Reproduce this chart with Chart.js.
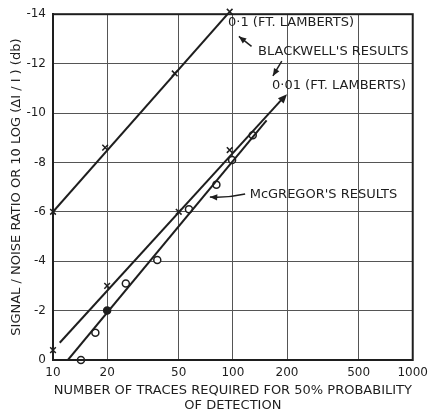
<!DOCTYPE html>
<html>
<head>
<meta charset="utf-8">
<script src="https://cdn.jsdelivr.net/npm/chart.js@4"></script>
<style>
  html, body { margin: 0; padding: 0; background: #fff; }
  #wrap { width: 434px; height: 413px; }
</style>
</head>
<body>
<div id="wrap"><canvas id="chart" width="434" height="413"></canvas></div>
<script>
// 坐标轴刻度
const xTicks = [10, 20, 50, 100, 200, 500, 1000];
const yTicks = [0, -2, -4, -6, -8, -10, -12, -14];

// Blackwell 0.1 ft. lamberts
const bw1LineX = [10, 96];
const bw1LineY = [-6, -14.1];
const bw1MarkX = [10, 19.5, 47.5, 96];
const bw1MarkY = [-6, -8.6, -11.6, -14.1];

// Blackwell 0.01 ft. lamberts
const bw2LineX = [10.9, 190];
const bw2LineY = [-0.7, -10.6];
const bw2MarkX = [10, 20, 50, 96];
const bw2MarkY = [-0.4, -3, -6, -8.5];

// McGregor
const mcgLineX = [12.1, 154];
const mcgLineY = [0, -9.7];
const mcgCircX = [14.3, 17.2, 25.4, 38, 57, 81, 99, 129];
const mcgCircY = [0, -1.1, -3.1, -4.05, -6.1, -7.1, -8.1, -9.1];
const mcgDotX = [20];
const mcgDotY = [-2];

const toPts = (xs, ys) => xs.map((x, i) => ({ x: x, y: ys[i] }));

const INK = '#1e1e1e';
const FONT = "'DejaVu Sans', sans-serif";

// 注释文字和箭头（数据坐标）
const labels = [
    { text: '0·1 (FT. LAMBERTS)', x: 94, y: -13.65 },
    { text: "BLACKWELL'S RESULTS", x: 138, y: -12.5 },
    { text: '0·01 (FT. LAMBERTS)', x: 165, y: -11.1 },
    { text: "McGREGOR'S RESULTS", x: 124, y: -6.7 }
];
const arrows = [
    { from: [127, -12.7], to: [108, -13.1], curve: false },
    { from: [187, -12.1], to: [167, -11.5], curve: false },
    { from: [117, -6.72], to: [74.5, -6.6], curve: true }
];

function arrowHead(ctx, x1, y1, x2, y2, size) {
    const a = Math.atan2(y2 - y1, x2 - x1);
    ctx.beginPath();
    ctx.moveTo(x2, y2);
    ctx.lineTo(x2 - size * Math.cos(a - 0.4), y2 - size * Math.sin(a - 0.4));
    ctx.lineTo(x2 - size * Math.cos(a + 0.4), y2 - size * Math.sin(a + 0.4));
    ctx.closePath();
    ctx.fill();
}

const annotate = {
    id: 'annotate',
    afterDatasetsDraw(chart) {
        const ctx = chart.ctx;
        const xs = chart.scales.x, ys = chart.scales.y;
        ctx.save();
        ctx.fillStyle = INK;
        ctx.strokeStyle = INK;
        ctx.font = '13px ' + FONT;
        ctx.textBaseline = 'middle';
        ctx.textAlign = 'left';
        labels.forEach(l => {
            ctx.fillText(l.text, xs.getPixelForValue(l.x), ys.getPixelForValue(l.y));
        });
        ctx.lineWidth = 1.5;
        arrows.forEach(a => {
            const x1 = xs.getPixelForValue(a.from[0]), y1 = ys.getPixelForValue(a.from[1]);
            const x2 = xs.getPixelForValue(a.to[0]), y2 = ys.getPixelForValue(a.to[1]);
            ctx.beginPath();
            ctx.moveTo(x1, y1);
            if (a.curve) {
                const cx = (x1 + x2) / 2, cy = y1 + 4;
                ctx.quadraticCurveTo(cx, cy, x2, y2);
                ctx.stroke();
                arrowHead(ctx, cx, cy, x2, y2, 8);
            } else {
                ctx.lineTo(x2, y2);
                ctx.stroke();
                arrowHead(ctx, x1, y1, x2, y2, 8);
            }
        });
        // 0.01 线末端箭头
        const n = bw2LineX.length - 1;
        const ex = xs.getPixelForValue(bw2LineX[n]), ey = ys.getPixelForValue(bw2LineY[n]);
        const sx = xs.getPixelForValue(bw2LineX[0]), sy = ys.getPixelForValue(bw2LineY[0]);
        arrowHead(ctx, sx, sy, ex + 4, ey - 4, 10);
        ctx.restore();
    }
};

const lineDs = (pts) => ({
    data: pts, showLine: true, borderColor: INK, borderWidth: 2,
    pointRadius: 0, fill: false
});
const markDs = (pts, style, fillColor, r) => ({
    data: pts, showLine: false, pointStyle: style, pointRadius: r,
    borderColor: INK, backgroundColor: fillColor, pointBorderWidth: 1.5,
    clip: false
});

new Chart(document.getElementById('chart'), {
    type: 'scatter',
    data: {
        datasets: [
            lineDs(toPts(bw1LineX, bw1LineY)),
            lineDs(toPts(bw2LineX, bw2LineY)),
            lineDs(toPts(mcgLineX, mcgLineY)),
            markDs(toPts(bw1MarkX, bw1MarkY), 'crossRot', INK, 4),
            markDs(toPts(bw2MarkX, bw2MarkY), 'crossRot', INK, 4),
            markDs(toPts(mcgCircX, mcgCircY), 'circle', '#fff', 3.5),
            markDs(toPts(mcgDotX, mcgDotY), 'circle', INK, 3.5)
        ]
    },
    options: {
        responsive: false,
        animation: false,
        layout: { padding: { left: 9, right: 21, top: 2, bottom: 0 } },
        plugins: { legend: { display: false }, tooltip: { enabled: false } },
        scales: {
            x: {
                type: 'logarithmic',
                min: 10, max: 1000,
                afterBuildTicks: s => { s.ticks = xTicks.map(v => ({ value: v })); },
                afterFit: s => { s.height = 53; },
                grid: { color: '#555', lineWidth: 1, drawTicks: false },
                border: { color: INK, width: 2 },
                ticks: {
                    color: INK, padding: 6, maxRotation: 0, autoSkip: false,
                    font: { family: FONT, size: 12 },
                    callback: v => String(v)
                },
                title: {
                    display: true,
                    text: ['NUMBER OF TRACES REQUIRED FOR 50% PROBABILITY', 'OF DETECTION'],
                    color: INK, padding: { top: 0, bottom: 0 },
                    font: { family: FONT, size: 13, lineHeight: 1.15 }
                }
            },
            y: {
                min: -14, max: 0,
                reverse: true,
                afterBuildTicks: s => { s.ticks = yTicks.map(v => ({ value: v })); },
                afterFit: s => { s.width = 44; },
                grid: { color: '#555', lineWidth: 1, drawTicks: false },
                border: { color: INK, width: 2 },
                ticks: {
                    color: INK, padding: 7,
                    font: { family: FONT, size: 12 },
                    callback: v => String(v)
                },
                title: {
                    display: true,
                    text: 'SIGNAL / NOISE RATIO OR 10 LOG (ΔI / I ) (db)',
                    color: INK, padding: { top: 0, bottom: 3 },
                    font: { family: FONT, size: 13 }
                }
            }
        }
    },
    plugins: [annotate, {
        id: 'frame',
        afterDraw(chart) {
            const { left, right, top, bottom } = chart.chartArea;
            const ctx = chart.ctx;
            ctx.save();
            ctx.strokeStyle = INK;
            ctx.lineWidth = 2;
            ctx.strokeRect(left, top, right - left, bottom - top);
            ctx.restore();
        }
    }]
});
</script>
</body>
</html>
